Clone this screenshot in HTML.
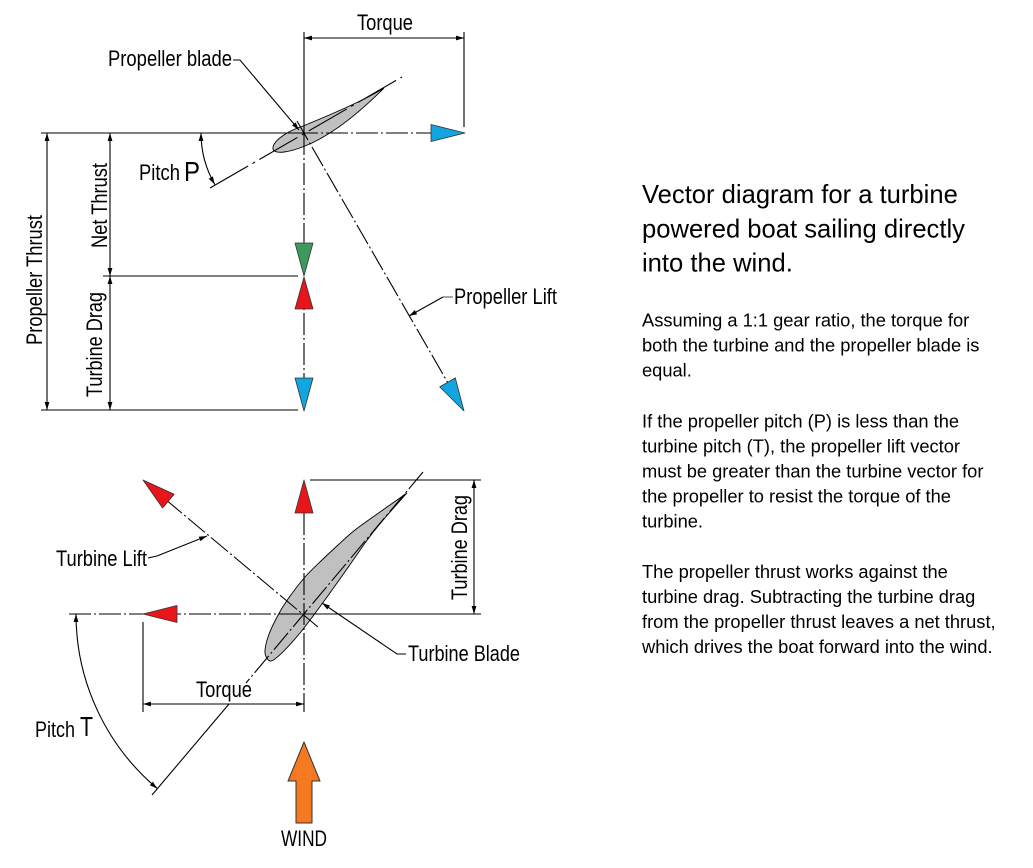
<!DOCTYPE html>
<html><head><meta charset="utf-8"><style>
html,body{margin:0;padding:0;background:#fff;}
svg{display:block;}
text{font-family:"Liberation Sans",Arial,sans-serif;fill:#000;}
.l{stroke:#000;stroke-width:1.1;fill:none;}
.dd{stroke:#000;stroke-width:1.1;fill:none;stroke-dasharray:22 3 2 3;}
.dim{stroke:#000;stroke-width:1.1;fill:none;marker-start:url(#ahs);marker-end:url(#ah);}
.lbl{font-size:22px;}
.p{font-size:18.3px;}
.t{font-size:25.6px;}
.arr{stroke:#333;stroke-width:0.8;stroke-linejoin:round;}
</style></head><body>
<svg width="1033" height="868" viewBox="0 0 1033 868" xmlns="http://www.w3.org/2000/svg">
<defs>
<marker id="ah" viewBox="0 0 10 6" refX="10" refY="3" markerWidth="8" markerHeight="5" orient="auto" markerUnits="userSpaceOnUse"><path d="M0,0 L10,3 L0,6 Z" fill="#000"/></marker>
<marker id="ahs" viewBox="0 0 10 6" refX="10" refY="3" markerWidth="8" markerHeight="5" orient="auto-start-reverse" markerUnits="userSpaceOnUse"><path d="M0,0 L10,3 L0,6 Z" fill="#000"/></marker>
</defs>

<!-- ===== TOP: propeller ===== -->
<path d="M384,88 C365,100 330,115 303,126 C285,132 272,142 273,149 C275,155 290,152 305,146 C325,138 350,122 384,88 Z" fill="#c0c0c0" stroke="#000" stroke-width="0.9"/>

<line class="l" x1="41" y1="133" x2="296" y2="133"/>
<line class="dd" x1="296" y1="133" x2="432" y2="133"/>
<line class="l" x1="304" y1="32" x2="304" y2="133"/>
<line class="dd" x1="304" y1="133" x2="304" y2="380"/>
<line class="l" x1="464" y1="32" x2="464" y2="127"/>
<line class="dim" x1="304" y1="38" x2="464" y2="38"/>

<line class="l" x1="103" y1="276" x2="298" y2="276"/>
<line class="l" x1="41" y1="410" x2="298" y2="410"/>
<line class="dim" x1="47" y1="133" x2="47" y2="410"/>
<line class="dim" x1="110" y1="133" x2="110" y2="276"/>
<line class="dim" x1="110" y1="276" x2="110" y2="410"/>

<line x1="210" y1="188" x2="402" y2="77" stroke="#000" stroke-width="1.1" stroke-dasharray="44 5 3 5"/>
<line class="dd" x1="297" y1="121" x2="448" y2="383"/>
<path d="M201,133 A103,103 0 0 0 214.8,184.5" class="l" marker-start="url(#ahs)" marker-end="url(#ah)"/>

<polyline points="233,60 240,60 299,130" class="l" marker-end="url(#ah)"/>
<line x1="453" y1="297" x2="443" y2="297" stroke="#888" stroke-width="1.5"/>
<polyline points="443,297 409,316" class="l" marker-end="url(#ah)"/>

<polygon class="arr" points="465,133 431,124.5 431,141.5" fill="#12a5e0"/>
<polygon class="arr" points="295,243 313,243 304,276" fill="#3d9a5c"/>
<polygon class="arr" points="304,277 313,309 295,309" fill="#e8151b"/>
<polygon class="arr" points="295,378 313,378 304,411" fill="#12a5e0"/>
<polygon class="arr" points="464,411 455.3,377.9 439.7,386.9" fill="#12a5e0"/>

<text class="lbl" x="357" y="30" textLength="56" lengthAdjust="spacingAndGlyphs">Torque</text>
<text class="lbl" x="108" y="66" textLength="124" lengthAdjust="spacingAndGlyphs">Propeller blade</text>
<text class="lbl" x="139" y="180" textLength="41" lengthAdjust="spacingAndGlyphs">Pitch</text>
<text x="184" y="181" font-size="28" textLength="16" lengthAdjust="spacingAndGlyphs">P</text>
<text class="lbl" x="454" y="304" textLength="103" lengthAdjust="spacingAndGlyphs">Propeller Lift</text>
<text class="lbl" transform="translate(42,345) rotate(-90)" textLength="130" lengthAdjust="spacingAndGlyphs">Propeller Thrust</text>
<text class="lbl" transform="translate(107,248) rotate(-90)" textLength="85" lengthAdjust="spacingAndGlyphs">Net Thrust</text>
<text class="lbl" transform="translate(102,397) rotate(-90)" textLength="105" lengthAdjust="spacingAndGlyphs">Turbine Drag</text>

<!-- ===== BOTTOM: turbine ===== -->
<path d="M407,493 C402.5,496.2 388.7,505.8 380,512 C371.3,518.2 362,524.5 355,530 C348,535.5 343.5,540 338,545 C332.5,550 327.5,554.7 322,560 C316.5,565.3 310.7,570.5 305,577 C299.3,583.5 292.7,592.3 288,599 C283.3,605.7 280.3,610.7 277,617 C273.7,623.3 270,631 268,637 C266,643 264.7,649 265,653 C265.3,657 267.8,660.2 270,661 C274,662.5 290,645 300,633 C320,608 345,572 365,543 C380,522 400,501 407,493 Z" fill="#c0c0c0" stroke="#000" stroke-width="0.9"/>

<line class="dd" x1="69" y1="614" x2="300" y2="614"/>
<line class="l" x1="300" y1="614" x2="481" y2="614"/>
<line class="l" x1="310" y1="480" x2="481" y2="480"/>
<line class="dim" x1="474" y1="480" x2="474" y2="614"/>
<line class="dd" x1="304" y1="513" x2="304" y2="712"/>
<line class="l" x1="143" y1="622" x2="143" y2="712"/>
<line class="dim" x1="143" y1="704" x2="304" y2="704"/>

<line class="dd" x1="423" y1="472" x2="246" y2="683"/>
<line class="l" x1="229" y1="704" x2="152" y2="795"/>
<line class="dd" x1="165" y1="499" x2="318" y2="627"/>
<path d="M76,614 A228,228 0 0 0 157.4,788.6" class="l" marker-start="url(#ahs)" marker-end="url(#ah)"/>

<polyline points="148,558 157,556 207,536" class="l" marker-end="url(#ah)"/>
<polyline points="406,654 397,654 322,603" class="l" marker-end="url(#ah)"/>

<polygon class="arr" points="304,480 313,513 295,513" fill="#e8151b"/>
<polygon class="arr" points="143,614 177,605.5 177,622.5" fill="#e8151b"/>
<polygon class="arr" points="143,480 174.2,494.2 162.6,508" fill="#e8151b"/>

<polygon points="304,742 320,781 312,781 312,823 296,823 296,781 288,781" fill="#f47920" stroke="#333" stroke-width="1" stroke-linejoin="round"/>

<text class="lbl" transform="translate(467,600) rotate(-90)" textLength="105" lengthAdjust="spacingAndGlyphs">Turbine Drag</text>
<text class="lbl" x="56" y="566" textLength="91" lengthAdjust="spacingAndGlyphs">Turbine Lift</text>
<text class="lbl" x="408" y="661" textLength="112" lengthAdjust="spacingAndGlyphs">Turbine Blade</text>
<text class="lbl" x="196" y="697" textLength="56" lengthAdjust="spacingAndGlyphs">Torque</text>
<text class="lbl" x="35" y="737" textLength="40" lengthAdjust="spacingAndGlyphs">Pitch</text>
<text x="80" y="736" font-size="28" textLength="13" lengthAdjust="spacingAndGlyphs">T</text>
<text class="lbl" x="281" y="846" textLength="46" lengthAdjust="spacingAndGlyphs">WIND</text>

<!-- ===== TEXT BLOCK ===== -->
<text class="t" x="642" y="203">Vector diagram for a turbine</text>
<text class="t" x="642" y="237.5">powered boat sailing directly</text>
<text class="t" x="642" y="271.7">into the wind.</text>

<text class="p" x="642" y="326.7">Assuming a 1:1 gear ratio, the torque for</text>
<text class="p" x="642" y="351.7">both the turbine and the propeller blade is</text>
<text class="p" x="642" y="376.7">equal.</text>

<text class="p" x="642" y="427.3">If the propeller pitch (P) is less than the</text>
<text class="p" x="642" y="452.5">turbine pitch (T), the propeller lift vector</text>
<text class="p" x="642" y="477.5">must be greater than the turbine vector for</text>
<text class="p" x="642" y="502.5">the propeller to resist the torque of the</text>
<text class="p" x="642" y="527.5">turbine.</text>

<text class="p" x="642" y="578">The propeller thrust works against the</text>
<text class="p" x="642" y="603">turbine drag. Subtracting the turbine drag</text>
<text class="p" x="642" y="628">from the propeller thrust leaves a net thrust,</text>
<text class="p" x="642" y="653">which drives the boat forward into the wind.</text>
</svg>
</body></html>
